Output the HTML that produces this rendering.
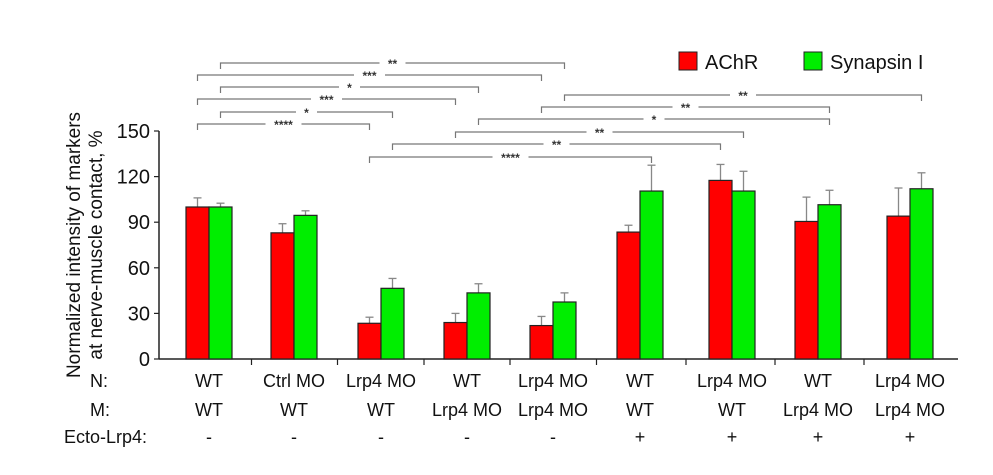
<!DOCTYPE html>
<html><head><meta charset="utf-8"><style>
body{margin:0;background:#fff;}
svg{display:block;font-family:"Liberation Sans",Arial,sans-serif;}
</style></head><body>
<svg id="chart" width="993" height="475" viewBox="0 0 993 475"></svg>
<script>
const categoriesN = ["WT","Ctrl MO","Lrp4 MO","WT","Lrp4 MO","WT","Lrp4 MO","WT","Lrp4 MO"];
const categoriesM = ["WT","WT","WT","Lrp4 MO","Lrp4 MO","WT","WT","Lrp4 MO","Lrp4 MO"];
const categoriesEcto = ["-","-","-","-","-","+","+","+","+"];
const achrValues = [100,83,23.5,24,22,83.5,117.5,90.5,94];
const achrErrors = [6,6,4,6,6,4.5,10.5,16,18.5];
const synValues = [100,94.5,46.5,43.5,37.5,110.5,110.5,101.5,112];
const synErrors = [2.5,3,6.5,6,6,17,13,9.5,10.5];
const yTicks = [0,30,60,90,120,150];
const bracketFrom = [0,0,0,0,0,0,4,4,3,3,2,2];
const bracketFromS = [1,0,1,0,1,0,1,0,1,0,1,0];
const bracketTo = [4,4,3,3,2,2,8,7,7,6,6,5];
const bracketToS = [1,0,1,0,1,0,1,1,1,1,0,1];
const bracketY = [63,75,87,99,112,124,95,107,119,132,144,157];
const bracketLabels = ["**","***","*","***","*","****","**","**","*","**","**","****"];

const NS="http://www.w3.org/2000/svg";
const svg=document.getElementById('chart');
function mk(tag,attrs,parent){const e=document.createElementNS(NS,tag);for(const k in attrs)e.setAttribute(k,attrs[k]);(parent||svg).appendChild(e);return e;}
const y0=359, yTop=131, yMax=150;
function ys(v){return y0-(v/yMax)*(y0-yTop);}
const groupCenters=[209,294,381,467,553,640,732,818,910];
function xg(i){return groupCenters[i];}
const bw=23;
function barX(i,s){return xg(i)-bw+s*bw;}

const ya=mk('line',{x1:159,y1:yTop,x2:159,y2:y0,stroke:'#222','stroke-width':1.5});

yTicks.forEach(t=>{
  const tl=mk('line',{x1:154,x2:159,y1:ys(t),y2:ys(t),stroke:'#222','stroke-width':1.2});
  
  const tx=mk('text',{x:150,y:ys(t)+7,'text-anchor':'end','font-size':20,fill:'#111'});
  tx.textContent=t;
  
});
const xa=mk('line',{x1:159,y1:y0,x2:958,y2:y0,stroke:'#222','stroke-width':1.5});

for(let i=0;i<groupCenters.length-1;i++){
  const mx=(xg(i)+xg(i+1))/2;
  const t=mk('line',{x1:mx,x2:mx,y1:y0,y2:y0+6,stroke:'#222','stroke-width':1.2});
  
}
const tt=mk('text',{transform:'translate(80,245) rotate(-90)','text-anchor':'middle','font-size':19,fill:'#111'});
tt.textContent='Normalized intensity of markers';

const tt2=mk('text',{transform:'translate(102,245) rotate(-90)','text-anchor':'middle','font-size':19,fill:'#111'});
tt2.textContent='at nerve-muscle contact, %';


function drawSeries(vals,errs,s,color,name){
  vals.forEach((v,i)=>{
    const x=barX(i,s);
    const top=ys(v+errs[i]);
    const el=mk('line',{x1:x+bw/2,x2:x+bw/2,y1:ys(v),y2:top,stroke:'#888','stroke-width':1.3});
    
    const cap=mk('line',{x1:x+bw/2-4,x2:x+bw/2+4,y1:top,y2:top,stroke:'#888','stroke-width':1.3});
    
    const r=mk('rect',{x:x,y:ys(v),width:bw,height:y0-ys(v),fill:color,stroke:'#222','stroke-width':1.2});
    
  });
}
drawSeries(achrValues,achrErrors,0,'#ff0000','achr');
drawSeries(synValues,synErrors,1,'#00ee00','synapsin');

function row(arr,y,name){arr.forEach((c,i)=>{
  const t=mk('text',{x:xg(i),y:y,'text-anchor':'middle','font-size':18,fill:'#111'});
  t.textContent=c;
});}
row(categoriesN,387,'n-label');row(categoriesM,416,'m-label');row(categoriesEcto,443,'ecto-label');
[['N:',90,387,'n-row-header'],['M:',90,416,'m-row-header'],['Ecto-Lrp4:',64,443,'ecto-row-header']].forEach(h=>{
  const t=mk('text',{x:h[1],y:h[2],'font-size':18,fill:'#111'});t.textContent=h[0];
  
});

bracketLabels.forEach((lab,k)=>{
  const x1=barX(bracketFrom[k],bracketFromS[k])+bw/2, x2=barX(bracketTo[k],bracketToS[k])+bw/2, y=bracketY[k];
  const mid=(x1+x2)/2, w=lab.length*5+16;
  const p=mk('path',{d:`M${x1},${y+6}V${y}H${mid-w/2}M${mid+w/2},${y}H${x2}V${y+6}`,fill:'none',stroke:'#777','stroke-width':1.2});
  
  const t=mk('text',{x:mid,y:y+5,'text-anchor':'middle','font-size':12,'font-weight':'bold',fill:'#333'});
  t.textContent=lab;
});

const lg=mk('g',{});
const r1=mk('rect',{x:679,y:52,width:18,height:18,fill:'#ff0000',stroke:'#222','stroke-width':1},lg);

const l1=mk('text',{x:705,y:69,'font-size':20,fill:'#111'},lg);l1.textContent='AChR';

const r2=mk('rect',{x:804,y:52,width:18,height:18,fill:'#00ee00',stroke:'#222','stroke-width':1},lg);

const l2=mk('text',{x:830,y:69,'font-size':20,fill:'#111'},lg);l2.textContent='Synapsin I';

</script>
</body></html>
